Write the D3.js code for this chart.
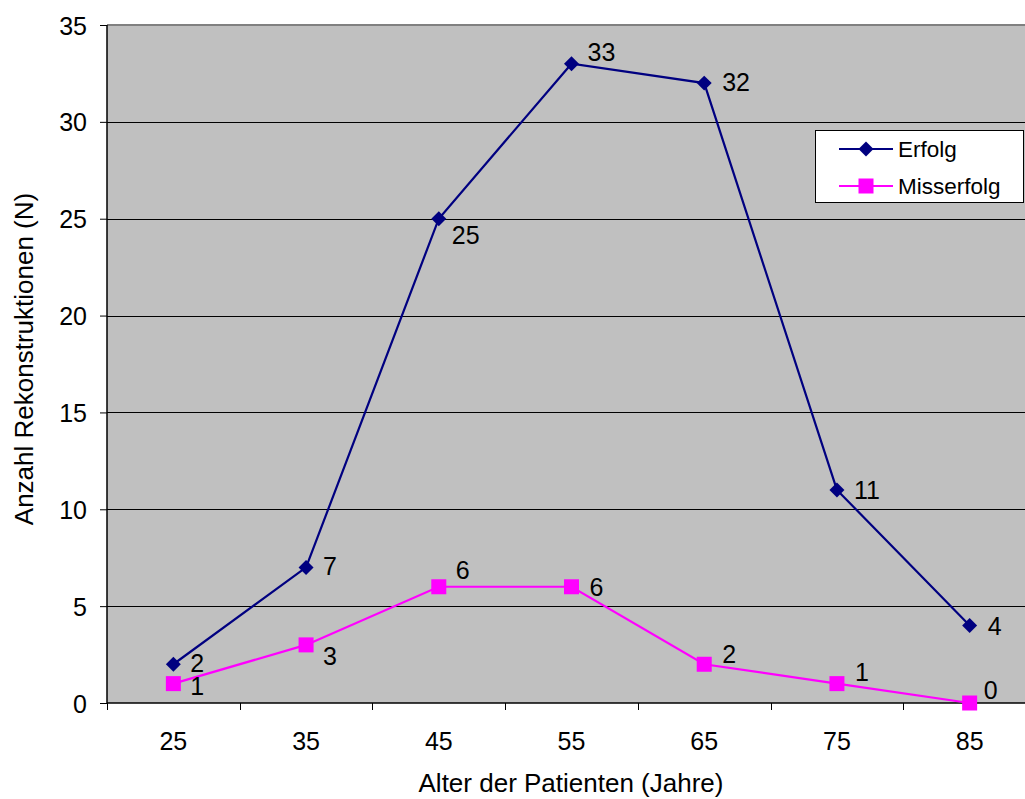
<!DOCTYPE html>
<html><head><meta charset="utf-8">
<script src="https://cdn.jsdelivr.net/npm/d3@7"></script>
<style>body{margin:0;background:#fff;} svg{display:block;font-family:"Liberation Sans",Arial,sans-serif;}</style>
</head><body>
<svg id="c" width="1025" height="799"></svg>
<script>
const categories = ["25","35","45","55","65","75","85"];
const erfolg = [2,7,25,33,32,11,4];
const misserfolg = [1,3,6,6,2,1,0];
const yTicks = [0,5,10,15,20,25,30,35];
const seriesNames = ["Erfolg","Misserfolg"];

const svg = d3.select("#c");
const L=107, R=1036, T=25, B=703;
const FS = 25;
const x = d3.scaleBand().domain(categories).range([L,R]);
const y = d3.scaleLinear().domain([0,35]).range([B,T]);
const cx = c => x(c)+x.bandwidth()/2;

svg.append("rect").attr("x",L).attr("y",T).attr("width",R-L).attr("height",B-T).attr("fill","#c0c0c0");
svg.append("line").attr("x1",L).attr("x2",R).attr("y1",T).attr("y2",T).attr("stroke","#808080").attr("stroke-width",2);
svg.append("g").selectAll("line").data(yTicks.filter(v=>v>0&&v<35)).join("line")
  .attr("x1",L).attr("x2",R).attr("y1",d=>Math.round(y(d))+0.5).attr("y2",d=>Math.round(y(d))+0.5)
  .attr("stroke","#000").attr("stroke-width",1);

const yAxis = svg.append("g").attr("transform",`translate(${L},0)`)
  .call(d3.axisLeft(y).tickValues(yTicks).tickSize(7).tickPadding(13));
const xAxis = svg.append("g").attr("transform",`translate(0,${B})`)
  .call(d3.axisBottom(x).tickSize(0).tickPadding(29));
[yAxis,xAxis].forEach(a=>{a.selectAll("text").attr("font-size",FS).attr("fill","#000").attr("font-family","Liberation Sans, Arial, sans-serif");
  a.selectAll("line").attr("stroke","#000"); a.select(".domain").attr("stroke","#000").attr("stroke-width",1.5);});
yAxis.selectAll("text").attr("dy","0.36em");
yAxis.select(".domain").attr("d",`M0,${T}V${B}`);
xAxis.select(".domain").attr("d",`M${L},0H${R}`);
svg.append("g").selectAll("line").data(categories).join("line")
  .attr("x1",d=>Math.round(x(d))+0.5).attr("x2",d=>Math.round(x(d))+0.5).attr("y1",B).attr("y2",B+7)
  .attr("stroke","#000");

const line = d3.line().x((d,i)=>cx(categories[i])).y(d=>y(d));
svg.append("path").datum(erfolg).attr("d",line).attr("fill","none").attr("stroke","#000080").attr("stroke-width",2.2);
svg.append("path").datum(misserfolg).attr("d",line).attr("fill","none").attr("stroke","#ff00ff").attr("stroke-width",2.2);

svg.append("g").selectAll("path").data(erfolg).join("path")
  .attr("d",d3.symbol(d3.symbolSquare, 112))
  .attr("transform",(d,i)=>`translate(${cx(categories[i])},${y(d)}) rotate(45)`)
  .attr("fill","#000080");
svg.append("g").selectAll("rect").data(misserfolg).join("rect")
  .attr("x",(d,i)=>cx(categories[i])-7.5).attr("y",d=>y(d)-7.5).attr("width",15).attr("height",15)
  .attr("fill","#ff00ff");

// label offsets (dx, dy) from each point
const eOff = [[17,8],[17,8],[13,25],[16,-3],[18,8],[17,9],[18,9]];
const mOff = [[17,11],[17,20],[17,-8],[18,9],[18,-1],[18,-3],[14,-4]];
svg.append("g").selectAll("text").data(erfolg).join("text")
  .attr("x",(d,i)=>cx(categories[i])+eOff[i][0]).attr("y",(d,i)=>y(d)+eOff[i][1])
  .attr("font-size",FS).text(d=>d);
svg.append("g").selectAll("text").data(misserfolg).join("text")
  .attr("x",(d,i)=>cx(categories[i])+mOff[i][0]).attr("y",(d,i)=>y(d)+mOff[i][1])
  .attr("font-size",FS).text(d=>d);

svg.append("text").attr("x",571).attr("y",792).attr("text-anchor","middle").attr("font-size",26).text("Alter der Patienten (Jahre)");
svg.append("text").attr("transform","translate(33,359) rotate(-90)").attr("text-anchor","middle").attr("font-size",26).text("Anzahl Rekonstruktionen (N)");

const lg = svg.append("g");
lg.append("rect").attr("x",815.5).attr("y",130.5).attr("width",208).attr("height",72).attr("fill","#fff").attr("stroke","#000");
const ly = [149,186];
lg.selectAll("line").data(seriesNames).join("line").attr("x1",839).attr("x2",893)
  .attr("y1",(d,i)=>ly[i]).attr("y2",(d,i)=>ly[i]).attr("stroke",(d,i)=>i?"#ff00ff":"#000080").attr("stroke-width",2.2);
lg.append("path").attr("d",d3.symbol(d3.symbolSquare,112)).attr("transform",`translate(866,${ly[0]}) rotate(45)`).attr("fill","#000080");
lg.append("rect").attr("x",858.5).attr("y",ly[1]-7.5).attr("width",15).attr("height",15).attr("fill","#ff00ff");
lg.selectAll("text").data(seriesNames).join("text").attr("x",898).attr("y",(d,i)=>ly[i]+8)
  .attr("font-size",22.5).text(d=>d);
</script>
</body></html>
